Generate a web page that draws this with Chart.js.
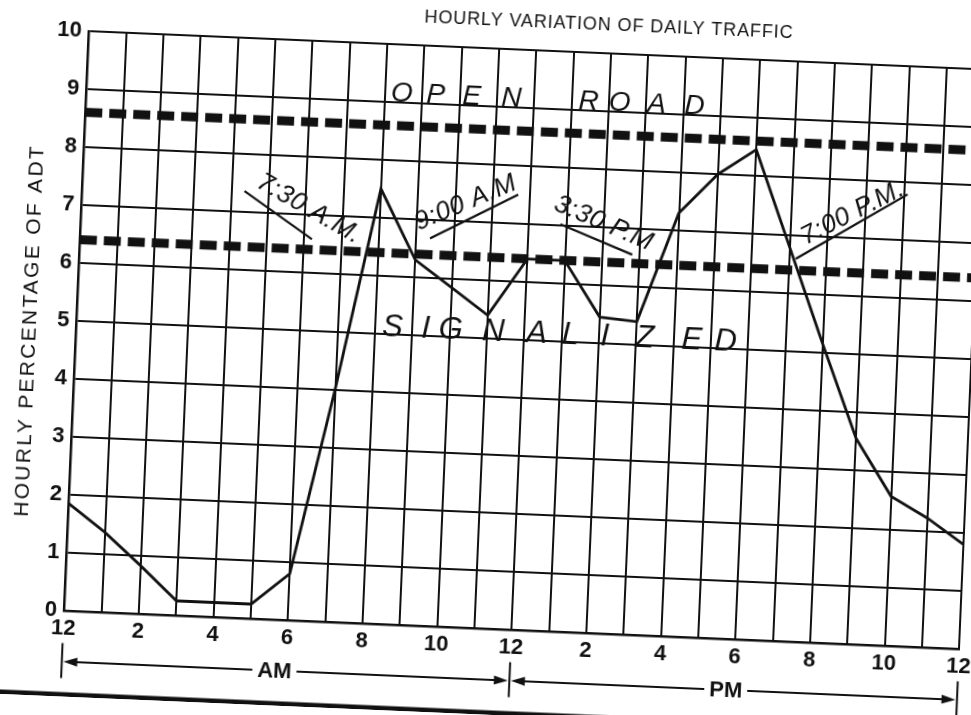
<!DOCTYPE html>
<html>
<head>
<meta charset="utf-8">
<script src="https://cdn.jsdelivr.net/npm/chart.js@4/dist/chart.umd.min.js"></script>
<style>
  html, body { margin: 0; padding: 0; background: #fff; overflow: hidden; width: 971px; height: 715px; }
  #wrap { position: absolute; left: 0; top: 0; width: 1000px; height: 715px;
          transform-origin: 500px 357.5px; transform: rotate(2.45deg); }
  canvas { display: block; }
</style>
</head>
<body>
<div id="wrap"><canvas id="c" width="1000" height="715"></canvas></div>
<script>
// ---------- data ----------
const hours = [0,1,2,3,4,5,6,7,8,9,10,11,12,13,14,15,16,17,18,19,20,21,22,23,24];
const hourlyPercentADT = [1.85,1.38,0.83,0.25,0.25,0.25,0.8,4.0,7.5,6.3,5.85,5.4,6.4,6.4,5.45,5.4,7.3,8.0,8.45,6.8,5.15,3.55,2.58,2.23,1.8];
const levelHours = [0, 24];
const openRoadLevel = [8.6, 8.6];
const signalizedLevel = [6.4, 6.4];
const xTickLabels = ['12','2','4','6','8','10','12','2','4','6','8','10','12'];
const yTickLabels = ['0','1','2','3','4','5','6','7','8','9','10'];
const periodLabels = ['AM', 'PM'];
const chartTitle = 'HOURLY VARIATION OF DAILY TRAFFIC';
const yAxisTitle = 'HOURLY PERCENTAGE OF ADT';
const openRoadText = 'OPEN ROAD';
const signalizedText = 'SIGNALIZED';
const timeNotes = ['7:30 A.M.', '9:00 A.M', '3:30 P.M', '7:00 P.M.'];

// ---------- styling / placement of hand annotations (data-space anchors) ----------
const INK = '#111';
const FONT = '"Liberation Sans", Arial, Helvetica, sans-serif';
const openRoadLetterHours = [8.45, 9.36, 10.32, 11.39, 13.46, 14.29, 15.28, 16.3];
const openRoadY = 9.16;
const signalizedLetterHours = [8.47, 9.36, 10.03, 11.17, 12.33, 13.24, 14.16, 15.23, 16.49, 17.4];
const signalizedY = 5.12;
const noteLayout = [
  { cx: 6.1,   cy: 7.1,  angle: 27.4,  line: [4.35, 7.36, 6.21, 6.58] },
  { cx: 10.28, cy: 7.32, angle: -25.2, line: [9.37, 6.68, 11.68, 7.5] },
  { cx: 14.0,  cy: 7.07, angle: 20.75, line: [12.84, 7.02, 14.8, 6.55] },
  { cx: 20.65, cy: 7.43, angle: -29.4, line: [19.18, 6.6, 22.1, 7.79] }
];
const periodCenters = [5.7, 17.8];
const periodBounds = [[0, 12], [12, 24]];

const notesPlugin = {
  id: 'notes',
  afterDraw(chart) {
    const { ctx, chartArea: a, scales: { x, y } } = chart;
    ctx.save();
    ctx.fillStyle = INK;
    ctx.strokeStyle = INK;
    ctx.textAlign = 'center';
    ctx.textBaseline = 'middle';

    // chart title
    ctx.save();
    ctx.font = '18px ' + FONT;
    ctx.letterSpacing = '0.9px';
    ctx.fillText(chartTitle, a.left + 519.5, a.top - 28.4);
    ctx.restore();

    // y-axis title
    ctx.save();
    ctx.translate(a.left - 46, a.top + 301.5);
    ctx.rotate(-Math.PI / 2);
    ctx.font = '21px ' + FONT;
    ctx.letterSpacing = '2.3px';
    ctx.fillText(yAxisTitle, 0, 0);
    ctx.restore();

    // OPEN ROAD / SIGNALIZED hand lettering
    ctx.save();
    ctx.font = 'italic 28px ' + FONT;
    openRoadText.replace(/ /g, '').split('').forEach((ch, i) => {
      ctx.fillText(ch, x.getPixelForValue(openRoadLetterHours[i]), y.getPixelForValue(openRoadY));
    });
    ctx.font = 'italic 31px ' + FONT;
    signalizedText.split('').forEach((ch, i) => {
      ctx.fillText(ch, x.getPixelForValue(signalizedLetterHours[i]), y.getPixelForValue(signalizedY));
    });
    ctx.restore();

    // time notes with leader lines
    ctx.save();
    ctx.lineWidth = 2.2;
    ctx.font = 'italic 26px ' + FONT;
    noteLayout.forEach((n, i) => {
      const l = n.line;
      ctx.beginPath();
      ctx.moveTo(x.getPixelForValue(l[0]), y.getPixelForValue(l[1]));
      ctx.lineTo(x.getPixelForValue(l[2]), y.getPixelForValue(l[3]));
      ctx.stroke();
      ctx.save();
      ctx.translate(x.getPixelForValue(n.cx), y.getPixelForValue(n.cy));
      ctx.rotate(n.angle * Math.PI / 180);
      ctx.letterSpacing = '0.5px';
      ctx.fillText(timeNotes[i], 0, 0);
      ctx.restore();
    });
    ctx.restore();

    // AM / PM range markers below the axis
    ctx.save();
    const rowY = a.bottom + 51;
    const barTop = a.bottom + 32.5, barBot = a.bottom + 67.5;
    ctx.lineWidth = 2;
    ctx.font = 'bold 22px ' + FONT;
    [0, 12, 24].forEach(h => {
      const px = x.getPixelForValue(h);
      ctx.beginPath(); ctx.moveTo(px, barTop); ctx.lineTo(px, barBot); ctx.stroke();
    });
    const arrowHead = (tipX, dir) => {
      ctx.beginPath();
      ctx.moveTo(tipX, rowY);
      ctx.lineTo(tipX + dir * 14, rowY - 4.5);
      ctx.lineTo(tipX + dir * 14, rowY + 4.5);
      ctx.closePath();
      ctx.fill();
    };
    periodLabels.forEach((lab, i) => {
      const cx = x.getPixelForValue(periodCenters[i]);
      const w = ctx.measureText(lab).width;
      const x0 = x.getPixelForValue(periodBounds[i][0]) + 1.5;
      const x1 = x.getPixelForValue(periodBounds[i][1]) - 1.5;
      ctx.fillText(lab, cx, rowY + 1);
      ctx.beginPath();
      ctx.moveTo(x0 + 8, rowY); ctx.lineTo(cx - w / 2 - 5, rowY);
      ctx.moveTo(cx + w / 2 + 5, rowY); ctx.lineTo(x1 - 8, rowY);
      ctx.stroke();
      arrowHead(x0, 1);
      arrowHead(x1, -1);
    });
    ctx.restore();

    // heavy page rule at the bottom of the scan
    ctx.save();
    ctx.lineWidth = 5;
    ctx.beginPath();
    ctx.moveTo(-20, a.bottom + 84);
    ctx.lineTo(1000, a.bottom + 84);
    ctx.stroke();
    ctx.restore();

    ctx.restore();
  }
};

const tickFont = { family: FONT, size: 22, weight: 'bold' };

new Chart(document.getElementById('c'), {
  type: 'line',
  data: {
    datasets: [
      {
        label: 'Hourly percentage of ADT',
        data: hours.map((h, i) => ({ x: h, y: hourlyPercentADT[i] })),
        borderColor: INK, borderWidth: 2.8, pointRadius: 0, tension: 0, fill: false
      },
      {
        label: 'Open road',
        data: levelHours.map((h, i) => ({ x: h, y: openRoadLevel[i] })),
        borderColor: INK, borderWidth: 9, borderDash: [17, 7], borderCapStyle: 'butt',
        pointRadius: 0, fill: false
      },
      {
        label: 'Signalized',
        data: levelHours.map((h, i) => ({ x: h, y: signalizedLevel[i] })),
        borderColor: INK, borderWidth: 9, borderDash: [17, 7], borderCapStyle: 'butt',
        pointRadius: 0, fill: false
      }
    ]
  },
  options: {
    responsive: false,
    animation: false,
    devicePixelRatio: 1,
    layout: { padding: { left: 0, top: 49, right: 28.8, bottom: 0 } },
    plugins: { legend: { display: false }, tooltip: { enabled: false }, title: { display: false } },
    scales: {
      x: {
        type: 'linear', min: 0, max: 24,
        afterFit(s) { s.height = 86; },
        ticks: {
          stepSize: 1, autoSkip: false, maxRotation: 0, minRotation: 0, padding: 5,
          color: INK, font: tickFont,
          callback: (v) => { const r = Math.round(v); return r % 2 === 0 ? xTickLabels[r / 2] : ''; }
        },
        grid: { color: INK, lineWidth: 2, drawTicks: false },
        border: { color: INK, width: 2.5 }
      },
      y: {
        min: 0, max: 10,
        afterFit(s) { s.width = 75.2; },
        ticks: {
          stepSize: 1, padding: 7, color: INK, font: tickFont,
          callback: (v) => yTickLabels[Math.round(v)]
        },
        grid: { color: INK, lineWidth: 2, drawTicks: false },
        border: { color: INK, width: 2.5 }
      }
    }
  },
  plugins: [notesPlugin]
});
</script>
</body>
</html>
